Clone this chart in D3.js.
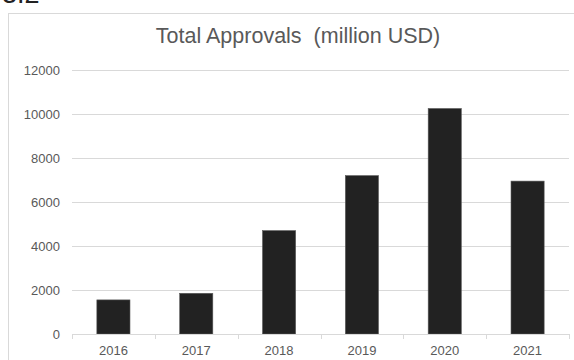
<!DOCTYPE html>
<html>
<head>
<meta charset="utf-8">
<script src="https://cdn.jsdelivr.net/npm/d3@7"></script>
<style>
  html, body { margin: 0; padding: 0; background: #fff; }
  svg { display: block; }
</style>
</head>
<body>
<script>
// Annual total approvals, million USD
const years = ["2016", "2017", "2018", "2019", "2020", "2021"];
const approvals = [1550, 1850, 4700, 7200, 10250, 6950];
const yTicks = [0, 2000, 4000, 6000, 8000, 10000, 12000];
const titleText = "Total Approvals  (million USD)";
const sectionLabel = "3.2";

const W = 574, H = 360;
const plot = { left: 72, right: 569, top: 70, bottom: 334 };
const FONT = "Liberation Sans, Arial, sans-serif";

const svg = d3.select("body").append("svg")
  .attr("width", W).attr("height", H);

// Section number, running off the top edge
svg.append("text")
  .attr("x", 2).attr("y", 3)
  .attr("font-family", FONT)
  .attr("font-size", 27)
  .attr("fill", "#222")
  .text(sectionLabel);

// Chart area frame
svg.append("rect")
  .attr("x", 8.5).attr("y", 13.5)
  .attr("width", 580).attr("height", 360)
  .attr("fill", "#fff")
  .attr("stroke", "#d9d9d9")
  .attr("stroke-width", 1);

const x = d3.scaleBand()
  .domain(years)
  .range([plot.left, plot.right])
  .paddingInner(0.6)
  .paddingOuter(0.3);

const y = d3.scaleLinear()
  .domain([0, 12000])
  .range([plot.bottom, plot.top]);

// Horizontal gridlines
svg.append("g")
  .selectAll("line")
  .data(yTicks.filter(d => d > 0))
  .join("line")
  .attr("x1", plot.left).attr("x2", plot.right)
  .attr("y1", d => Math.round(y(d)) + 0.5)
  .attr("y2", d => Math.round(y(d)) + 0.5)
  .attr("stroke", "#d9d9d9")
  .attr("stroke-width", 1);

// Y axis labels
const yAxis = d3.axisLeft(y)
  .tickValues(yTicks)
  .tickFormat(d3.format("d"))
  .tickSize(0)
  .tickPadding(12);
svg.append("g")
  .attr("transform", `translate(${plot.left},0)`)
  .call(yAxis)
  .call(g => g.select(".domain").remove())
  .call(g => g.selectAll("text")
    .attr("font-family", FONT)
    .attr("font-size", 13)
    .attr("fill", "#595959"));

// Bars
svg.append("g")
  .selectAll("rect")
  .data(years.map((yr, i) => ({ yr, v: approvals[i] })))
  .join("rect")
  .attr("x", d => x(d.yr))
  .attr("width", x.bandwidth())
  .attr("y", d => y(d.v))
  .attr("height", d => y(0) - y(d.v))
  .attr("fill", "#222222")
  .attr("stroke", "#5a5a5a")
  .attr("stroke-width", 0.6);

// Category axis with boundary ticks
const bounds = d3.range(years.length + 1).map(i => plot.left + i * (plot.right - plot.left) / years.length);
const xg = svg.append("g");
xg.append("line")
  .attr("x1", plot.left).attr("x2", plot.right)
  .attr("y1", plot.bottom + 0.5).attr("y2", plot.bottom + 0.5)
  .attr("stroke", "#d9d9d9");
xg.selectAll("line.tick")
  .data(bounds)
  .join("line")
  .attr("class", "tick")
  .attr("x1", d => Math.round(d) + 0.5).attr("x2", d => Math.round(d) + 0.5)
  .attr("y1", plot.bottom).attr("y2", plot.bottom + 5)
  .attr("stroke", "#d9d9d9");
xg.selectAll("text")
  .data(years)
  .join("text")
  .attr("x", d => x(d) + x.bandwidth() / 2)
  .attr("y", 355)
  .attr("text-anchor", "middle")
  .attr("font-family", FONT)
  .attr("font-size", 13)
  .attr("fill", "#595959")
  .text(d => d);

// Title
svg.append("text")
  .attr("x", 298).attr("y", 43)
  .attr("text-anchor", "middle")
  .attr("font-family", FONT)
  .attr("font-size", 21.5)
  .style("white-space", "pre")
  .attr("fill", "#595959")
  .text(titleText);
</script>
</body>
</html>
